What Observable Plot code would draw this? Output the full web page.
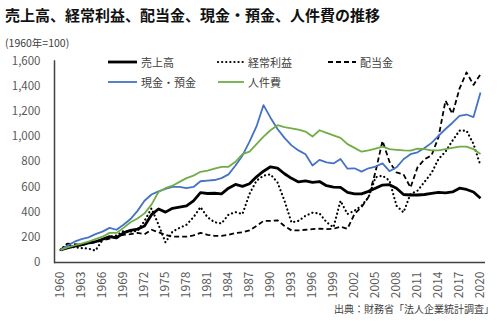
<!DOCTYPE html>
<html><head><meta charset="utf-8">
<script src="https://cdn.jsdelivr.net/npm/d3@7"></script>
<script src="https://cdn.jsdelivr.net/npm/@observablehq/plot@0.6"></script>
<style>
body{margin:0;background:#fff;}
#wrap{position:relative;width:500px;height:321px;overflow:hidden;font-family:"Noto Sans CJK JP","Noto Sans",sans-serif;color:#404040;}
#wrap svg{position:absolute;left:0;top:0;}
.t{position:absolute;white-space:nowrap;line-height:1;}
#title{left:5px;top:7px;font-size:15px;font-weight:bold;color:#111;}
#unit{left:5px;top:38px;font-size:10.5px;}
#src{right:6px;top:304px;font-size:10px;}
.lg{position:absolute;display:flex;align-items:center;font-size:11px;white-space:nowrap;}
.lg svg{position:static !important;margin-right:3px;}
</style></head><body><div id="wrap"></div>
<script>
const years = d3.range(1960, 2021);
const xTicks = [1960,1963,1966,1969,1972,1975,1978,1981,1984,1987,1990,1993,1996,1999,2002,2005,2008,2011,2014,2017,2020];
const yTicks = [0,200,400,600,800,1000,1200,1400,1600];
const seriesNames = ["売上高","経常利益","配当金","現金・預金","人件費"];

const sales = [100,115,130,140,155,165,185,205,195,235,255,265,290,380,425,400,430,440,450,490,
  555,548,550,545,590,620,605,625,680,725,760,750,705,668,640,648,636,643,610,598,
  596,557,545,545,565,590,615,618,590,540,536,536,540,548,557,553,560,590,580,560,510];
const profit = [100,150,120,115,110,95,180,205,215,250,245,250,330,430,300,160,245,275,300,360,
  440,360,320,310,380,400,385,545,650,690,700,636,490,318,331,371,395,390,320,280,
  490,385,411,451,517,676,690,650,451,398,544,570,640,710,822,880,968,1047,1047,941,769];
const dividends = [100,150,145,140,150,160,175,190,205,220,225,235,225,260,240,220,205,205,205,215,
  235,220,212,212,220,235,240,255,290,330,330,335,290,255,255,260,265,268,265,268,
  285,268,385,440,520,720,965,800,715,700,595,755,820,850,995,1285,1180,1380,1510,1410,1495];
const cash = [100,135,165,185,200,225,245,275,260,300,345,410,490,540,565,585,600,600,590,600,
  645,650,655,670,700,770,850,960,1080,1250,1150,1060,990,930,890,860,770,815,795,787,
  822,745,748,722,748,762,787,725,756,820,860,875,910,950,1005,1060,1110,1165,1175,1155,1350];
const personnel = [100,120,135,150,165,185,205,235,235,275,320,350,390,460,560,590,610,640,670,690,
  720,730,745,760,760,800,860,880,940,1000,1050,1090,1075,1065,1055,1040,1000,1050,1030,1010,
  990,940,910,880,890,905,920,900,895,890,888,905,900,890,890,900,910,920,920,900,862];

const styles = [
  {stroke:"#000", strokeWidth:2.8, dash:null},
  {stroke:"#000", strokeWidth:2.2, dash:"0.1,4", cap:"round"},
  {stroke:"#000", strokeWidth:1.8, dash:"5,3"},
  {stroke:"#4472C4", strokeWidth:1.8, dash:null},
  {stroke:"#70AD47", strokeWidth:1.8, dash:null}
];
const allSeries = [sales, profit, dividends, cash, personnel];
const rows = allSeries.map(vals => years.map((y,i)=>({year:y, value:vals[i]})));

const lineMarks = rows.map((r,k)=>Plot.line(r,{x:"year",y:"value",stroke:styles[k].stroke,strokeWidth:styles[k].strokeWidth,
  strokeDasharray:styles[k].dash||undefined, strokeLinecap:styles[k].cap||"butt", strokeLinejoin:"round"}));

const chart = Plot.plot({
  width:500, height:321,
  marginTop:60.5, marginBottom:59, marginLeft:54, marginRight:15,
  style:{fontFamily:'"Noto Sans CJK JP","Noto Sans",sans-serif', fontSize:"12px", color:"#595959", background:"transparent"},
  x:{type:"point", domain:years, padding:0.5, align:0.5},
  y:{domain:[0,1600]},
  marks:[
    Plot.axisY({ticks:yTicks, tickSize:0, tickPadding:14, tickFormat:d3.format(","), label:null, fontSize:11.5}),
    Plot.axisX({ticks:xTicks, tickSize:0, tickRotate:-90, tickPadding:9, tickFormat:d=>String(d), label:null, fontSize:12}),
    ...lineMarks,
    Plot.ruleY([0],{stroke:"#404040", strokeWidth:1.5}),
    Plot.frame({anchor:"left", stroke:"#404040", strokeWidth:1.5})
  ]
});
const wrap = document.getElementById("wrap");
wrap.appendChild(chart);

function addText(id, txt){const d=document.createElement("div");d.className="t";d.id=id;d.textContent=txt;wrap.appendChild(d);}
addText("title","売上高、経常利益、配当金、現金・預金、人件費の推移");
addText("unit","(1960年=100)");
addText("src","出典：財務省「法人企業統計調査」");

const legendPos = [[107,54],[217,54],[327,54],[107,74],[217,74]];
const swW = [31,28,30,31,28];
seriesNames.forEach((name,k)=>{
  const d=document.createElement("div");d.className="lg";
  d.style.left=legendPos[k][0]+"px"; d.style.top=legendPos[k][1]+"px";
  const s=styles[k];
  d.innerHTML=`<svg width="${swW[k]}" height="12"><line x1="1" x2="${swW[k]-1}" y1="6" y2="6" stroke="${s.stroke}" stroke-width="${s.strokeWidth}" ${s.dash?`stroke-dasharray="${s.dash}"`:""} stroke-linecap="${s.cap||"butt"}"/></svg><span>${name}</span>`;
  wrap.appendChild(d);
});
</script></body></html>
